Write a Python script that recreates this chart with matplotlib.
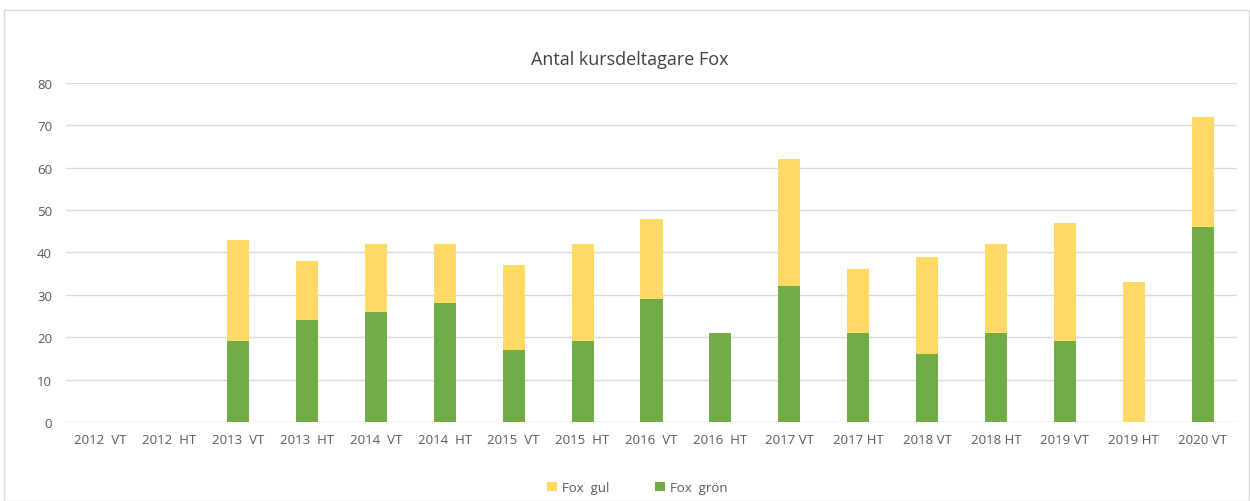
import matplotlib
matplotlib.use("Agg")
import matplotlib.pyplot as plt
from matplotlib.patches import Rectangle
import numpy as np

plt.rcParams['font.family'] = ['Open Sans', 'DejaVu Sans']

terms = ["2012  VT", "2012  HT", "2013  VT", "2013  HT", "2014  VT", "2014  HT",
         "2015  VT", "2015  HT", "2016  VT", "2016  HT", "2017 VT", "2017 HT",
         "2018 VT", "2018 HT", "2019 VT", "2019 HT", "2020 VT"]
gron = [0, 0, 19, 24, 26, 28, 17, 19, 29, 21, 32, 21, 16, 21, 19, 0, 46]
gul = [0, 0, 24, 14, 16, 14, 20, 23, 19, 0, 30, 15, 23, 21, 28, 33, 26]

GREEN = "#70AD47"
YELLOW = "#FFD966"
TXT = "#595959"

fig = plt.figure(figsize=(12.5, 5.02), dpi=100)
fig.patches.append(Rectangle((0.003, 0.0), 0.996, 0.978, transform=fig.transFigure,
                             fill=False, edgecolor="#D9D9D9", linewidth=1))
ax = fig.add_axes([0.0528, 0.1574, 0.9368, 0.6753])

x = np.arange(len(terms))
ax.bar(x, gron, width=0.32, color=GREEN, label="Fox  grön", zorder=3)
ax.bar(x, gul, width=0.32, bottom=gron, color=YELLOW, label="Fox  gul", zorder=3)

ax.set_ylim(0, 80)
ax.set_xlim(-0.5, len(terms) - 0.5)
ax.set_yticks(range(0, 81, 10))
ax.set_xticks(x)
ax.set_xticklabels(terms)
ax.tick_params(axis='both', length=0, colors=TXT, labelsize=9.5)
ax.tick_params(axis='x', pad=8)
ax.tick_params(axis='y', pad=10)
ax.grid(axis='y', color="#D9D9D9", linewidth=1, zorder=0)
for s in ax.spines.values():
    s.set_visible(False)
ax.axhline(0, color="#D9D9D9", linewidth=1, zorder=1)

fig.text(0.504, 0.88, "Antal kursdeltagare Fox", ha='center', va='center',
         fontsize=13, color="#404040")

h, l = ax.get_legend_handles_labels()
fig.legend(h[::-1], l[::-1], loc='center', bbox_to_anchor=(0.51, 0.027), ncol=2,
           frameon=False, fontsize=9.5, labelcolor=TXT, handlelength=0.7,
           handleheight=0.7, columnspacing=3.5, handletextpad=0.4)

fig.savefig("out.png", dpi=100, facecolor="white")
